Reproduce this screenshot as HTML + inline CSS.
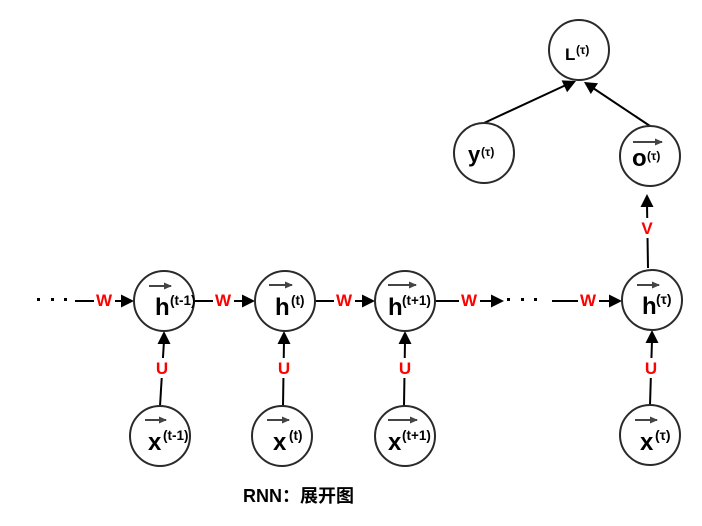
<!DOCTYPE html>
<html><head><meta charset="utf-8"><style>
html,body{margin:0;padding:0;background:#fff;}
svg{display:block;}
text{font-family:"Liberation Sans","Noto Sans CJK SC",sans-serif;font-weight:bold;}
</style></head><body>
<svg width="702" height="526" viewBox="0 0 702 526" xmlns="http://www.w3.org/2000/svg">
<defs>
<marker id="oa" markerWidth="9" markerHeight="9" refX="7" refY="3.5" orient="auto" markerUnits="userSpaceOnUse">
<path d="M0,0 L8,3.5 L0,7 z" fill="#444"/>
</marker>
</defs>
<g stroke="#000" stroke-width="2" fill="none">
<line x1="75" y1="301" x2="124" y2="301"/>
<line x1="194" y1="301" x2="245" y2="301"/>
<line x1="315" y1="301" x2="365" y2="301"/>
<line x1="435" y1="301" x2="494" y2="301"/>
<line x1="552" y1="301" x2="612" y2="301"/>
<line x1="160" y1="406" x2="164" y2="341"/>
<line x1="283" y1="406" x2="284" y2="341"/>
<line x1="404" y1="406" x2="405" y2="341"/>
<line x1="650" y1="405" x2="652" y2="340"/>
<line x1="648" y1="268" x2="647" y2="204"/>
<line x1="484" y1="123" x2="566" y2="85"/>
<line x1="650" y1="126" x2="593" y2="88"/>
</g>
<g fill="#000">
<polygon points="134,301 121,294.5 121,307.5"/>
<polygon points="255,301 242,294.5 242,307.5"/>
<polygon points="375,301 362,294.5 362,307.5"/>
<polygon points="504,301 491,294.5 491,307.5"/>
<polygon points="622,301 609,294.5 609,307.5"/>
<polygon points="164,331 157.5,344 170.5,344"/>
<polygon points="284,331 277.5,344 290.5,344"/>
<polygon points="405,331 398.5,344 411.5,344"/>
<polygon points="652,330 645.5,343 658.5,343"/>
<polygon points="647,194 640.5,207 653.5,207"/>
<polygon points="576,81 567.1,92.2 561.6,80.4"/>
<polygon points="584,82 598.0,83.2 590.8,94.0"/>
<rect x="37" y="298" width="3" height="3"/>
<rect x="51" y="298" width="3" height="3"/>
<rect x="64" y="298" width="3" height="3"/>
<rect x="507" y="298" width="3" height="3"/>
<rect x="521" y="298" width="3" height="3"/>
<rect x="534" y="298" width="3" height="3"/>
</g>
<g fill="#fff">
<rect x="94" y="292" width="21" height="18"/>
<rect x="213" y="292" width="21" height="18"/>
<rect x="334" y="292" width="21" height="18"/>
<rect x="459" y="292" width="21" height="18"/>
<rect x="578" y="292" width="21" height="18"/>
<rect x="154" y="358" width="16" height="20"/>
<rect x="275" y="358" width="16" height="20"/>
<rect x="396" y="358" width="16" height="20"/>
<rect x="643" y="358" width="16" height="20"/>
<rect x="639" y="218" width="16" height="20"/>
</g>
<g fill="#f00" font-size="17" text-anchor="middle">
<text x="104" y="306">W</text>
<text x="223" y="306">W</text>
<text x="344" y="306">W</text>
<text x="469" y="306">W</text>
<text x="588" y="306">W</text>
<text x="162" y="374">U</text>
<text x="284" y="374">U</text>
<text x="405" y="374">U</text>
<text x="651" y="374">U</text>
<text x="647" y="234">V</text>
</g>
<g stroke="#2a2a2a" stroke-width="2" fill="#fff">
<circle cx="579" cy="50" r="30"/>
<circle cx="484" cy="153" r="30"/>
<circle cx="650" cy="156" r="30"/>
<circle cx="164" cy="301" r="30"/>
<circle cx="285" cy="301" r="30"/>
<circle cx="405" cy="301" r="30"/>
<circle cx="652" cy="300" r="30"/>
<circle cx="160" cy="436" r="30"/>
<circle cx="282" cy="436" r="30"/>
<circle cx="405" cy="436" r="30"/>
<circle cx="650" cy="435" r="30"/>
</g>
<g stroke="#444" stroke-width="2" marker-end="url(#oa)">
<line x1="149" y1="286" x2="171" y2="286"/>
<line x1="269" y1="285" x2="292" y2="285"/>
<line x1="388" y1="285" x2="416" y2="285"/>
<line x1="637" y1="285" x2="659" y2="285"/>
<line x1="145" y1="420" x2="166" y2="420"/>
<line x1="267" y1="420" x2="289" y2="420"/>
<line x1="388" y1="420" x2="417" y2="420"/>
<line x1="635" y1="420" x2="657" y2="420"/>
<line x1="633" y1="142" x2="662" y2="142"/>
</g>
<g fill="#000">
<text x="155" y="315" font-size="24">h</text><text x="170" y="305" font-size="13.5">(t-1)</text>
<text x="275" y="315" font-size="24">h</text><text x="291" y="305" font-size="13.5">(t)</text>
<text x="388" y="315" font-size="24">h</text><text x="402" y="305" font-size="13.5">(t+1)</text>
<text x="642" y="314" font-size="24">h</text><text x="656" y="304" font-size="14">(τ)</text>
<text x="148" y="450" font-size="24">x</text><text x="163" y="440" font-size="13.5">(t-1)</text>
<text x="273" y="450" font-size="24">x</text><text x="289" y="440" font-size="13.5">(t)</text>
<text x="388" y="450" font-size="24">x</text><text x="402" y="440" font-size="13.5">(t+1)</text>
<text x="640" y="450" font-size="24">x</text><text x="655" y="440" font-size="14">(τ)</text>
<text x="565" y="60" font-size="17">L</text><text x="576" y="54" font-size="12">(τ)</text>
<text x="468" y="162" font-size="22">y</text><text x="481" y="156" font-size="12">(τ)</text>
<text x="632" y="166" font-size="24">o</text><text x="647" y="160" font-size="12">(τ)</text>
<text x="243" y="502" font-size="18">RNN：展开图</text>
</g>
</svg>
</body></html>
